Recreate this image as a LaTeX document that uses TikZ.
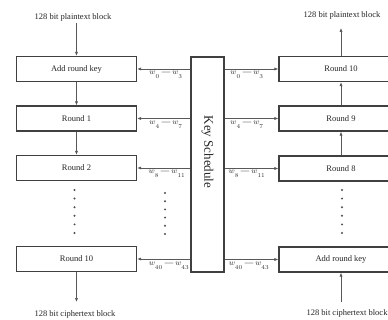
\documentclass[tikz,border=0pt]{standalone}
\usepackage{fontspec}
\setmainfont{Liberation Serif}
\usetikzlibrary{arrows.meta}
\newcommand{\wrange}[2]{$w_{\raisebox{-2.5pt}{$\scriptstyle #1$}}$\hspace{2pt}\textemdash\hspace{2pt}$w_{\raisebox{-2.5pt}{$\scriptstyle #2$}}$}
\begin{document}
\begin{tikzpicture}[x=1pt,y=-1pt,
  blk/.style={draw=black!75, line width=1.3pt, minimum width=120pt, minimum height=25pt,
              font=\fontsize{8.5}{10}\selectfont, text=black!85, inner sep=0pt},
  rblk/.style={blk, minimum width=124pt},
  arr/.style={draw=black!65, line width=0.7pt, -{Latex[length=4pt,width=3.2pt]}},
  lbl/.style={font=\fontsize{8.5}{9}\selectfont, text=black!80, inner sep=0pt, anchor=north},
  io/.style={font=\fontsize{8.5}{10}\selectfont, text=black!85, inner sep=1pt}]
\clip (0,0) rectangle (388,320);
\fill[white] (0,0) rectangle (388,320);
% left column
\node[blk] (L0) at (76.5,69) {Add round key};
\node[blk] (L1) at (76.5,118.5) {Round 1};
\node[blk] (L2) at (76.5,168) {Round 2};
\node[blk] (L10) at (76.5,259) {Round 10};
% right column
\node[rblk] (R10) at (341,69) {Round 10};
\node[rblk] (R9) at (341,118.5) {Round 9};
\node[rblk] (R8) at (341,168.5) {Round 8};
\node[rblk] (RA) at (341,259.5) {Add round key};
% key schedule
\node[draw=black!75, line width=1.3pt, minimum width=33pt, minimum height=215pt, inner sep=0pt] (KS) at (207.5,164.5) {};
\node[rotate=-90, font=\fontsize{13}{14}\selectfont, text=black!85] (KST) at (207.5,152) {Key Schedule};
% inputs / outputs
\node[io] (PTL) at (73,17) {128 bit plaintext block};
\coordinate (ptl) at (76.5,23);
\draw[arr] (ptl) -- (L0.north);
\node[io] (CTL) at (75,314) {128 bit ciphertext block};
\coordinate (ctl) at (76.5,302);
\draw[arr] (L10.south) -- (ctl);
\node[io] (PTR) at (342,15) {128 bit plaintext block};
\coordinate (ptr) at (341,28);
\draw[arr] (R10.north) -- (ptr);
\node[io] (CTR) at (347,313) {128 bit ciphertext block};
\coordinate (ctr) at (341,302);
\draw[arr] (ctr) -- (RA.south);
% column arrows
\draw[arr] (L0.south) -- (L1.north);
\draw[arr] (L1.south) -- (L2.north);
\draw[arr] (R9.north) -- (R10.south);
\draw[arr] (R8.north) -- (R9.south);
% key arrows
\foreach \b/\r in {L0/R10, L1/R9, L2/R8, L10/RA}{
  \draw[arr] (KS.west |- \b.east) -- (\b.east);
  \draw[arr] (KS.east |- \r.west) -- (\r.west);
}
\node[lbl] (kl0) at (166,71) {\wrange{0}{3}};
\node[lbl] (kl1) at (166,121) {\wrange{4}{7}};
\node[lbl] (kl2) at (167,170) {\wrange{8}{11}};
\node[lbl] (kl3) at (169,262) {\wrange{40}{43}};
\node[lbl] (kr0) at (247,71) {\wrange{0}{3}};
\node[lbl] (kr1) at (247,121) {\wrange{4}{7}};
\node[lbl] (kr2) at (247,170) {\wrange{8}{11}};
\node[lbl] (kr3) at (249,262) {\wrange{40}{43}};
% dots
\foreach \i in {0,...,5}{
  \fill[black!70] (74.5,190+8.6*\i) circle (1.1pt);
  \fill[black!70] (165,193+8.2*\i) circle (1.1pt);
  \fill[black!70] (342,190+8.6*\i) circle (1.1pt);
}
\end{tikzpicture}
\end{document}
